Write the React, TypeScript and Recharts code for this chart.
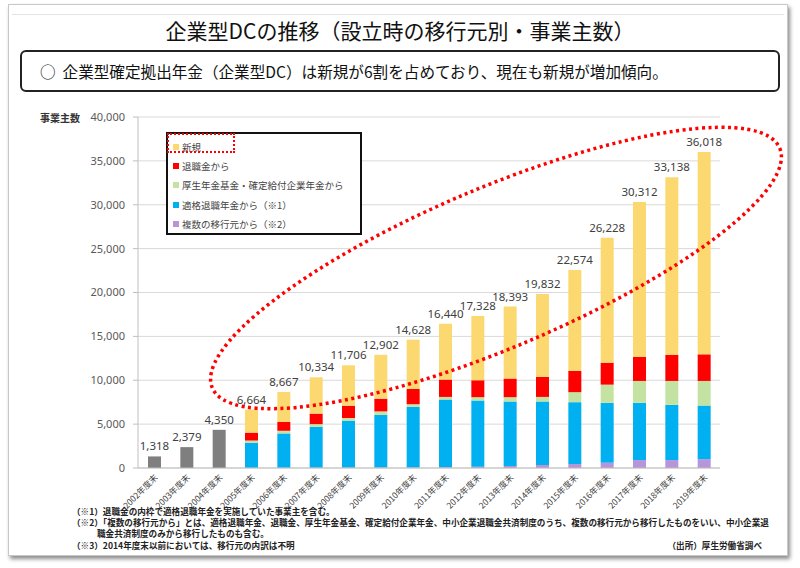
import { BarChart, Bar, XAxis, YAxis, CartesianGrid, LabelList } from "recharts";

const years = [
  "2002年度末", "2003年度末", "2004年度末", "2005年度末", "2006年度末", "2007年度末",
  "2008年度末", "2009年度末", "2010年度末", "2011年度末", "2012年度末", "2013年度末",
  "2014年度末", "2015年度末", "2016年度末", "2017年度末", "2018年度末", "2019年度末",
];

const totals = [1318, 2379, 4350, 6664, 8667, 10334, 11706, 12902, 14628, 16440, 17328, 18393, 19832, 22574, 26228, 30312, 33138, 36018];

// 内訳なし（2004年度末まで）
const beforeBreakdown = [1318, 2379, 4350, 0, 0, 0, 0, 0, 0, 0, 0, 0, 0, 0, 0, 0, 0, 0];
const fromMultiple = [0, 0, 0, 20, 30, 40, 50, 60, 70, 80, 150, 230, 340, 450, 600, 900, 900, 1000];
const fromQualified = [0, 0, 0, 2860, 3910, 4660, 5350, 5990, 6900, 7720, 7550, 7350, 7240, 7050, 6820, 6520, 6300, 6120];
const fromFund = [0, 0, 0, 250, 300, 300, 300, 400, 300, 300, 370, 490, 520, 1140, 2080, 2500, 2720, 2800];
const fromRetirement = [0, 0, 0, 900, 1000, 1200, 1400, 1450, 1730, 1980, 1930, 2120, 2280, 2420, 2500, 2730, 2960, 3030];
const newPlans = [0, 0, 0, 2634, 3427, 4134, 4606, 5002, 5628, 6360, 7328, 8203, 9452, 11514, 14228, 17662, 20258, 23068];

const yTicks = [0, 5000, 10000, 15000, 20000, 25000, 30000, 35000, 40000];

const legendItems = [
  { name: "新規", color: "#fbd870" },
  { name: "退職金から", color: "#ff0000" },
  { name: "厚生年金基金・確定給付企業年金から", color: "#c4e3a2" },
  { name: "適格退職年金から（※1）", color: "#00b0f0" },
  { name: "複数の移行元から（※2）", color: "#b894d8" },
];

const data = years.map((year, i) => ({
  year,
  total: totals[i],
  before: beforeBreakdown[i],
  multiple: fromMultiple[i],
  qualified: fromQualified[i],
  fund: fromFund[i],
  retirement: fromRetirement[i],
  newPlan: newPlans[i],
}));

const CJK = '"Noto Sans CJK JP", "Noto Sans", sans-serif';
const TICK_FS = 8.5;

// rough text length: half-width digits + full-width kanji
function labelLength(s: string) {
  let w = 0;
  for (const ch of s) w += /[0-9]/.test(ch) ? TICK_FS * 0.55 : TICK_FS;
  return w;
}

function YearTick(props: any) {
  const { x, y, payload } = props;
  const d = labelLength(payload.value) * Math.SQRT1_2;
  const sx = x + 4 - d;
  const sy = y + 2 + d;
  return (
    <text
      x={sx}
      y={sy}
      transform={`rotate(-45 ${sx} ${sy})`}
      textAnchor="start"
      fontSize={TICK_FS}
      fill="#404040"
      fontFamily={CJK}
    >
      {payload.value}
    </text>
  );
}

function TotalLabel(props: any) {
  const vb = props.viewBox ?? props;
  const { x, y, width, height } = vb;
  if (!height || props.value == null) return null;
  return (
    <text x={x + width / 2} y={y - 6} textAnchor="middle" fontSize={11.5} fill="#404040" fontFamily='"Noto Sans", sans-serif'>
      {Number(props.value).toLocaleString("en-US")}
    </text>
  );
}

export default function App() {
  return (
    <div style={{ position: "absolute", left: 0, top: 0, width: 800, height: 568, background: "#fff", fontFamily: CJK }}>
      <div
        style={{
          position: "absolute", left: 8, top: 4, width: 778, height: 550,
          border: "1px solid #c8c8c8", boxShadow: "2px 3px 4px rgba(0,0,0,0.45)", background: "#fff",
        }}
      />
      <div style={{ position: "absolute", left: 12, top: 14, width: 772, borderTop: "1px solid #e4e4e4" }} />
      <div style={{ position: "absolute", left: 0, top: 15, width: 800, textAlign: "center", fontSize: 21, color: "#111", lineHeight: "30px" }}>
        企業型DCの推移（設立時の移行元別・事業主数）
      </div>
      <div
        style={{
          position: "absolute", left: 20, top: 50, width: 738, height: 38, border: "2px solid #222",
          borderRadius: 6, fontSize: 15.6, lineHeight: "38px", color: "#111", paddingLeft: 18, boxSizing: "content-box",
          whiteSpace: "nowrap",
        }}
      >
        ○&nbsp;&nbsp;企業型確定拠出年金（企業型DC）は新規が6割を占めており、現在も新規が増加傾向。
      </div>
      <div style={{ position: "absolute", left: 40, top: 110, fontSize: 10, fontWeight: 700, color: "#333" }}>事業主数</div>

      <div style={{ position: "absolute", left: 0, top: 0 }}>
        <BarChart width={800} height={568} data={data} margin={{ top: 117, right: 80, bottom: 40, left: 78 }} barSize={13}>
          <CartesianGrid vertical={false} stroke="#d9d9d9" />
          <XAxis
            dataKey="year"
            interval={0}
            tick={(p: any) => <YearTick {...p} />}
            tickLine={false}
            tickMargin={2}
            axisLine={{ stroke: "#bfbfbf" }}
            height={60}
          />
          <YAxis
            domain={[0, 40000]}
            ticks={yTicks}
            tickFormatter={(v: number) => v.toLocaleString("en-US")}
            width={60}
            axisLine={{ stroke: "#bfbfbf" }}
            tickLine={{ stroke: "#bfbfbf" }}
            tickSize={5}
            tickMargin={8}
            tick={{ fontSize: 11, fill: "#595959", fontFamily: '"Noto Sans", sans-serif' }}
          />
          <Bar dataKey="before" stackId="a" fill="#7f7f7f" isAnimationActive={false}>
            <LabelList dataKey="before" content={<TotalLabel />} />
          </Bar>
          <Bar dataKey="multiple" stackId="a" fill="#b894d8" isAnimationActive={false} />
          <Bar dataKey="qualified" stackId="a" fill="#00b0f0" isAnimationActive={false} />
          <Bar dataKey="fund" stackId="a" fill="#c4e3a2" isAnimationActive={false} />
          <Bar dataKey="retirement" stackId="a" fill="#ff0000" isAnimationActive={false} />
          <Bar dataKey="newPlan" stackId="a" fill="#fbd870" isAnimationActive={false}>
            <LabelList dataKey="total" content={<TotalLabel />} />
          </Bar>
        </BarChart>
      </div>

      <div
        style={{
          position: "absolute", left: 166, top: 132, width: 192, height: 96, border: "2px solid #111",
          background: "#fff", paddingTop: 3, boxSizing: "content-box",
        }}
      >
        {legendItems.map((item) => (
          <div key={item.name} style={{ display: "flex", alignItems: "center", height: 19.3, paddingLeft: 5, fontSize: 9.5, color: "#444" }}>
            <span style={{ display: "inline-block", width: 6, height: 6, background: item.color, marginRight: 3 }} />
            {item.name}
          </div>
        ))}
      </div>
      <div style={{ position: "absolute", left: 167, top: 133, width: 64, height: 16, border: "2.5px dotted #ff0000" }} />

      <svg width={800} height={568} style={{ position: "absolute", left: 0, top: 0, pointerEvents: "none" }}>
        <ellipse
          cx={496}
          cy={268}
          rx={308}
          ry={80}
          transform="rotate(-22.9 496 268)"
          fill="none"
          stroke="#ff0000"
          strokeWidth={3.5}
          strokeDasharray="3 3.5"
        />
      </svg>

      <div style={{ position: "absolute", left: 72, top: 506, width: 710, fontSize: 8.6, lineHeight: "11.2px", color: "#222", fontWeight: 700 }}>
        <div>（※1）退職金の内枠で適格退職年金を実施していた事業主を含む。</div>
        <div style={{ whiteSpace: "nowrap" }}>（※2）「複数の移行元から」とは、適格退職年金、退職金、厚生年金基金、確定給付企業年金、中小企業退職金共済制度のうち、複数の移行元から移行したものをいい、中小企業退</div>
        <div style={{ paddingLeft: 25 }}>職金共済制度のみから移行したものも含む。</div>
        <div style={{ display: "flex", justifyContent: "space-between" }}>
          <span>（※3）2014年度末以前においては、移行元の内訳は不明</span>
          <span style={{ marginRight: 20 }}>（出所）厚生労働省調べ</span>
        </div>
      </div>
    </div>
  );
}
